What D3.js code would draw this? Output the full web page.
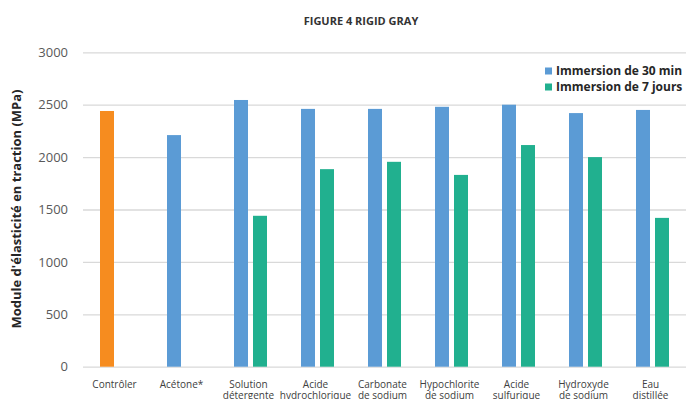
<!DOCTYPE html>
<html>
<head>
<meta charset="utf-8">
<script src="https://cdn.jsdelivr.net/npm/d3@7"></script>
<style>
  html, body { margin: 0; padding: 0; background: #ffffff; }
  svg { display: block; font-family: "Open Sans", "Noto Sans", sans-serif; }
</style>
</head>
<body>
<svg id="chart" width="689" height="399"></svg>
<script>
// Categories (label lines separated by "|")
const categories = [
  "Contrôler", "Acétone*", "Solution|détergente", "Acide|hydrochlorique",
  "Carbonate|de sodium", "Hypochlorite|de sodium", "Acide|sulfurique",
  "Hydroxyde|de sodium", "Eau|distillée"
];
// Tensile modulus (MPa) after 30 minutes of immersion; first entry is the control
const immersion30min = [2440, 2210, 2545, 2460, 2460, 2480, 2500, 2420, 2450];
// Tensile modulus (MPa) after 7 days of immersion (null = not measured)
const immersion7jours = [null, null, 1440, 1885, 1955, 1830, 2115, 2000, 1420];
const seriesNames = ["Immersion de 30 min", "Immersion de 7 jours"];
const yTicks = [0, 500, 1000, 1500, 2000, 2500, 3000];

const colors = { s30: "#5B9BD5", s7: "#21B08F", control: "#F68C1F" };

const svg = d3.select("#chart");
const plot = { left: 83, right: 686, top: 52.3, bottom: 366.7 };

const x = d3.scaleBand().domain(categories).range([plot.left, plot.right]).padding(0);
const groupOffset = 17;
const xInner = d3.scaleBand().domain(["s30", "s7"]).range([0, 33]).paddingInner(0.263).paddingOuter(0);
const y = d3.scaleLinear().domain([0, 3000]).range([plot.bottom, plot.top]);

// Title
svg.append("text")
  .attr("x", 361).attr("y", 24.5)
  .attr("text-anchor", "middle")
  .attr("font-size", 11).attr("font-weight", "bold")
  .attr("fill", "#333333")
  .text("FIGURE 4 RIGID GRAY");

// Horizontal gridlines + y tick labels via axis
const yAxis = d3.axisLeft(y).tickValues(yTicks).tickSize(-(plot.right - plot.left)).tickPadding(15).tickFormat(d3.format("d"));
const gy = svg.append("g").attr("transform", `translate(${plot.left},0)`).call(yAxis);
gy.select(".domain").remove();
gy.selectAll(".tick line").attr("stroke", "#D9D9D9").attr("stroke-width", 1.3);
gy.selectAll(".tick text").attr("font-size", 13).attr("fill", "#595959")
  .attr("font-family", "'Open Sans', 'Noto Sans', sans-serif");

// Y axis title
svg.append("text")
  .attr("transform", "translate(21,209) rotate(-90)")
  .attr("text-anchor", "middle")
  .attr("font-size", 13).attr("font-weight", "bold")
  .attr("fill", "#262626")
  .text("Module d'élasticité en traction (MPa)");

// Bars
const rows = categories.map((c, i) => ({ cat: c, i, s30: immersion30min[i], s7: immersion7jours[i] }));
const groups = svg.append("g").selectAll("g").data(rows).join("g")
  .attr("transform", d => `translate(${x(d.cat) + groupOffset},0)`);

groups.append("rect")
  .attr("x", xInner("s30"))
  .attr("width", xInner.bandwidth())
  .attr("y", d => y(d.s30))
  .attr("height", d => y(0) - y(d.s30))
  .attr("fill", d => d.i === 0 ? colors.control : colors.s30);

groups.filter(d => d.s7 != null).append("rect")
  .attr("x", xInner("s7"))
  .attr("width", xInner.bandwidth())
  .attr("y", d => y(d.s7))
  .attr("height", d => y(0) - y(d.s7))
  .attr("fill", colors.s7);

// Category labels (two lines where needed)
const labels = svg.append("g").selectAll("text").data(categories).join("text")
  .attr("x", d => x(d) + x.bandwidth() / 2 - 2)
  .attr("y", 387.5)
  .attr("text-anchor", "middle")
  .attr("font-size", 10)
  .attr("fill", "#404040");
labels.each(function(d) {
  const parts = d.split("|");
  const t = d3.select(this);
  parts.forEach((p, k) => {
    t.append("tspan")
      .attr("x", t.attr("x"))
      .attr("dy", k === 0 ? 0 : 11.5)
      .text(p);
  });
});

// Legend
const legend = svg.append("g").attr("transform", "translate(545,0)");
const legendItems = [
  { name: seriesNames[0], color: colors.s30, yc: 71 },
  { name: seriesNames[1], color: colors.s7, yc: 87 }
];
legendItems.forEach(it => {
  legend.append("rect").attr("x", 0).attr("y", it.yc - 3.5).attr("width", 7).attr("height", 7).attr("fill", it.color);
  legend.append("text").attr("x", 11).attr("y", it.yc + 4.3)
    .attr("font-size", 12).attr("font-weight", "bold").attr("fill", "#262626")
    .text(it.name);
});
</script>
</body>
</html>
